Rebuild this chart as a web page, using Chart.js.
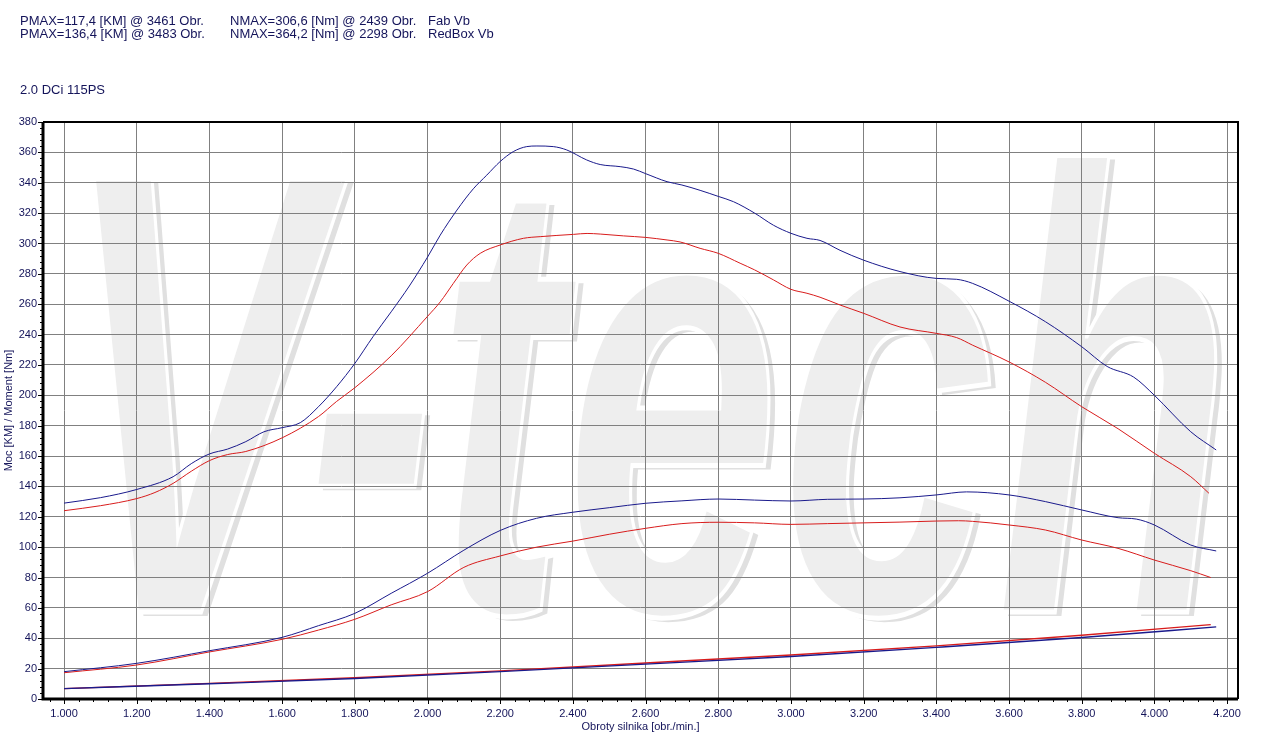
<!DOCTYPE html>
<html lang="pl">
  <head>
    <meta charset="UTF-8" />
    <title>2.0 DCi 115PS</title>
    <style>
      html,
      body {
        margin: 0;
        padding: 0;
        background: #fff;
      }
      .wrap {
        position: relative;
        width: 1264px;
        height: 751px;
      }
      canvas {
        position: absolute;
        left: 0;
        top: 0;
      }
      .hdr {
        position: absolute;
        font: 13px "Liberation Sans", Arial, sans-serif;
        line-height: 14px;
        color: #14145a;
        white-space: pre;
      }
    </style>
  </head>
  <body>
    <div class="wrap">
      <canvas id="chart" width="1264" height="751"></canvas>
      <div class="hdr" style="left: 20px; top: 14px">PMAX=117,4 [KM] @ 3461 Obr.</div>
      <div class="hdr" style="left: 230px; top: 14px">NMAX=306,6 [Nm] @ 2439 Obr.</div>
      <div class="hdr" style="left: 428px; top: 14px">Fab Vb</div>
      <div class="hdr" style="left: 20px; top: 27px">PMAX=136,4 [KM] @ 3483 Obr.</div>
      <div class="hdr" style="left: 230px; top: 27px">NMAX=364,2 [Nm] @ 2298 Obr.</div>
      <div class="hdr" style="left: 428px; top: 27px">RedBox Vb</div>
      <div class="hdr" style="left: 20px; top: 83px">2.0 DCi 115PS</div>
    </div>

    <script src="https://cdn.jsdelivr.net/npm/chart.js@4.4.0/dist/chart.umd.min.js"></script>
    <script>
      // tick positions
      const X_TICKS = [1000, 1200, 1400, 1600, 1800, 2000, 2200, 2400, 2600, 2800, 3000, 3200, 3400, 3600, 3800, 4000, 4200];
      const X_MIN = 942;
      const X_MAX = 4230;

      // RedBox Vb (blue) torque [Nm]
      const rpmTorqueRedBox = [1000, 1100, 1200, 1300, 1350, 1400, 1450, 1500, 1550, 1600, 1650, 1700, 1750, 1800, 1850, 1900, 1950, 2000, 2035, 2081, 2126, 2163, 2200, 2236, 2273, 2301, 2346, 2383, 2438, 2475, 2530, 2567, 2600, 2659, 2700, 2750, 2800, 2842, 2900, 2952, 3000, 3044, 3080, 3135, 3200, 3300, 3400, 3456, 3500, 3600, 3700, 3800, 3870, 3943, 4000, 4100, 4170];
      const torqueRedBox = [129, 132.6, 138, 146.4, 155, 161.4, 164.6, 169.5, 176, 178.7, 182, 192.5, 205.7, 221, 238.6, 255, 272, 291, 305.5, 322, 336, 345, 354, 360.5, 363.8, 364.2, 363.8, 361.6, 355, 352, 350.6, 349, 346, 340.7, 338.5, 335, 331, 327.5, 320, 312, 306.7, 303.4, 302, 295.5, 289, 281.5, 277, 276.4, 273.7, 262, 248.5, 232, 219, 212, 200, 176, 164];

      // Fab Vb (red) torque [Nm]
      const rpmTorqueFab = [1000, 1100, 1200, 1250, 1300, 1350, 1400, 1450, 1500, 1600, 1700, 1750, 1800, 1900, 2000, 2035, 2071, 2108, 2145, 2200, 2264, 2310, 2402, 2439, 2475, 2539, 2600, 2659, 2695, 2750, 2800, 2860, 2900, 2952, 3000, 3044, 3080, 3135, 3200, 3300, 3400, 3456, 3500, 3600, 3700, 3800, 3900, 4000, 4100, 4150];
      const torqueFab = [124, 127.3, 132, 136, 142, 150, 157, 161, 163, 172, 186, 196, 205, 226, 252, 261.5, 273.7, 285.8, 293.5, 299, 303.4, 304.5, 306, 306.6, 306.2, 305, 304, 302.3, 301, 296.8, 293.5, 287, 282.6, 276, 269.8, 267.2, 264.6, 259.5, 254, 245, 240.8, 238, 233, 222, 208.6, 192.5, 178, 161.8, 146.4, 135.5];

      // RedBox Vb (blue) power [KM]
      const rpmPowerRedBox = [1000, 1200, 1400, 1600, 1700, 1800, 1900, 2000, 2100, 2200, 2300, 2400, 2500, 2600, 2700, 2800, 2900, 3000, 3100, 3200, 3300, 3400, 3483, 3600, 3700, 3800, 3900, 3950, 4000, 4100, 4170];
      const powerRedBox = [18, 23.5, 31.8, 40.6, 48.3, 56.4, 69.6, 82.8, 98, 111, 119, 123, 126, 128.9, 130.5, 131.7, 131, 130.4, 131.5, 131.7, 132.5, 134.4, 136.4, 134.4, 130, 124.5, 119.4, 118.5, 114.6, 101.4, 97.5];

      // Fab Vb (red) power [KM]
      const rpmPowerFab = [1000, 1200, 1400, 1600, 1700, 1800, 1900, 2000, 2100, 2200, 2300, 2400, 2500, 2600, 2700, 2800, 2900, 3000, 3100, 3200, 3300, 3400, 3461, 3500, 3600, 3700, 3800, 3900, 4000, 4100, 4155];
      const powerFab = [17.3, 22.4, 31, 39.3, 45.4, 52.5, 62, 70.7, 86.7, 94.2, 100, 104, 108.5, 112.4, 115.5, 116.4, 116, 115, 115.5, 116, 116.5, 117.2, 117.4, 117, 114.6, 111.3, 104.7, 99.2, 91.5, 84.5, 80];

      // drag losses
      const rpmLossRedBox = [1000, 1400, 1800, 2200, 2600, 3000, 3400, 3800, 4170];
      const lossRedBox = [6.8, 10, 13.5, 18, 23, 28, 34, 40.5, 47.5];
      const rpmLossFab = [1000, 1400, 1800, 2200, 2600, 3000, 3400, 3800, 4155];
      const lossFab = [6.8, 10.3, 14, 18.5, 23.7, 29, 35, 42, 49];

      const BLUE = "#1a1a8c";
      const RED = "#d81c1c";
      const TEXT = "#14145a";
      const FONT = "'Liberation Sans', Arial, sans-serif";

      const pts = (xs, ys) => xs.map((x, i) => ({ x: x, y: ys[i] }));

      function line(label, xs, ys, color, width) {
        return {
          label: label,
          data: pts(xs, ys),
          borderColor: color,
          borderWidth: width || 1,
          pointRadius: 0,
          fill: false,
          cubicInterpolationMode: "monotone",
        };
      }

      // big grey logo behind the grid
      const watermark = {
        id: "watermark",
        beforeDraw(chart) {
          const { ctx, chartArea: a } = chart;
          ctx.save();
          ctx.beginPath();
          ctx.rect(a.left, a.top, a.right - a.left, a.bottom - a.top);
          ctx.clip();
          ctx.font = "italic bold 630px " + FONT;
          const w = ctx.measureText("V-tech").width;
          ctx.translate(62, 612);
          ctx.scale(1170 / w, 1);
          ctx.fillStyle = "#e0e0e0";
          ctx.fillText("V-tech", 10, 4);
          ctx.fillStyle = "#eeeeee";
          ctx.fillText("V-tech", 0, 0);
          ctx.strokeStyle = "#ffffff";
          ctx.lineWidth = 5;
          ctx.strokeText("V-tech", 0, 0);
          ctx.restore();
        },
      };

      // frame, major and minor ticks
      const frame = {
        id: "frame",
        afterDraw(chart) {
          const { ctx, chartArea: a } = chart;
          const xs = chart.scales.x;
          const ys = chart.scales.y;
          ctx.save();
          ctx.strokeStyle = "#000";
          ctx.lineWidth = 1;
          ctx.beginPath();
          for (let v = 0; v <= 380; v += 4) {
            const y = Math.round(ys.getPixelForValue(v)) + 0.5;
            const len = v % 20 === 0 ? 5 : 3;
            ctx.moveTo(a.left - len, y);
            ctx.lineTo(a.left, y);
          }
          for (let v = 960; v <= X_MAX; v += 40) {
            const x = Math.round(xs.getPixelForValue(v)) + 0.5;
            const len = v % 200 === 0 ? 5 : 3;
            ctx.moveTo(x, a.bottom);
            ctx.lineTo(x, a.bottom + len);
          }
          ctx.stroke();

          ctx.lineWidth = 2;
          ctx.beginPath();
          ctx.moveTo(a.left, a.top);
          ctx.lineTo(a.right, a.top);
          ctx.lineTo(a.right, a.bottom);
          ctx.stroke();

          ctx.lineWidth = 3;
          ctx.beginPath();
          ctx.moveTo(a.left, a.top);
          ctx.lineTo(a.left, a.bottom);
          ctx.lineTo(a.right, a.bottom);
          ctx.stroke();
          ctx.restore();
        },
      };

      new Chart(document.getElementById("chart"), {
        type: "line",
        data: {
          datasets: [
            line("RedBox Vb moment", rpmTorqueRedBox, torqueRedBox, BLUE),
            line("RedBox Vb moc", rpmPowerRedBox, powerRedBox, BLUE),
            line("RedBox Vb straty", rpmLossRedBox, lossRedBox, BLUE, 1.4),
            line("Fab Vb moment", rpmTorqueFab, torqueFab, RED),
            line("Fab Vb moc", rpmPowerFab, powerFab, RED),
            line("Fab Vb straty", rpmLossFab, lossFab, RED, 1.4),
          ],
        },
        options: {
          responsive: false,
          animation: false,
          layout: { padding: { top: 122, right: 26, left: 0, bottom: 0 } },
          plugins: {
            legend: { display: false },
            tooltip: { enabled: false },
          },
          scales: {
            x: {
              type: "linear",
              min: X_MIN,
              max: X_MAX,
              afterBuildTicks: (s) => {
                s.ticks = X_TICKS.map((v) => ({ value: v }));
              },
              afterFit: (s) => {
                s.height = 52;
              },
              grid: { color: "#808080", lineWidth: 1, drawTicks: false },
              border: { display: false },
              ticks: {
                padding: 8,
                maxRotation: 0,
                autoSkip: false,
                color: TEXT,
                font: { family: FONT, size: 11 },
                callback: (v) => (v / 1000).toFixed(3),
              },
              title: {
                display: true,
                text: "Obroty silnika [obr./min.]",
                color: TEXT,
                font: { family: FONT, size: 11 },
                padding: { top: 0, bottom: 17 },
              },
            },
            y: {
              min: 0,
              max: 380,
              afterFit: (s) => {
                s.width = 43;
              },
              grid: { color: "#808080", lineWidth: 1, drawTicks: false },
              border: { display: false },
              ticks: {
                stepSize: 20,
                padding: 6,
                color: TEXT,
                font: { family: FONT, size: 11 },
              },
              title: {
                display: true,
                text: "Moc [KM] / Moment [Nm]",
                color: TEXT,
                font: { family: FONT, size: 11 },
                padding: { top: 2, bottom: 0 },
              },
            },
          },
        },
        plugins: [watermark, frame],
      });
    </script>
  </body>
</html>
